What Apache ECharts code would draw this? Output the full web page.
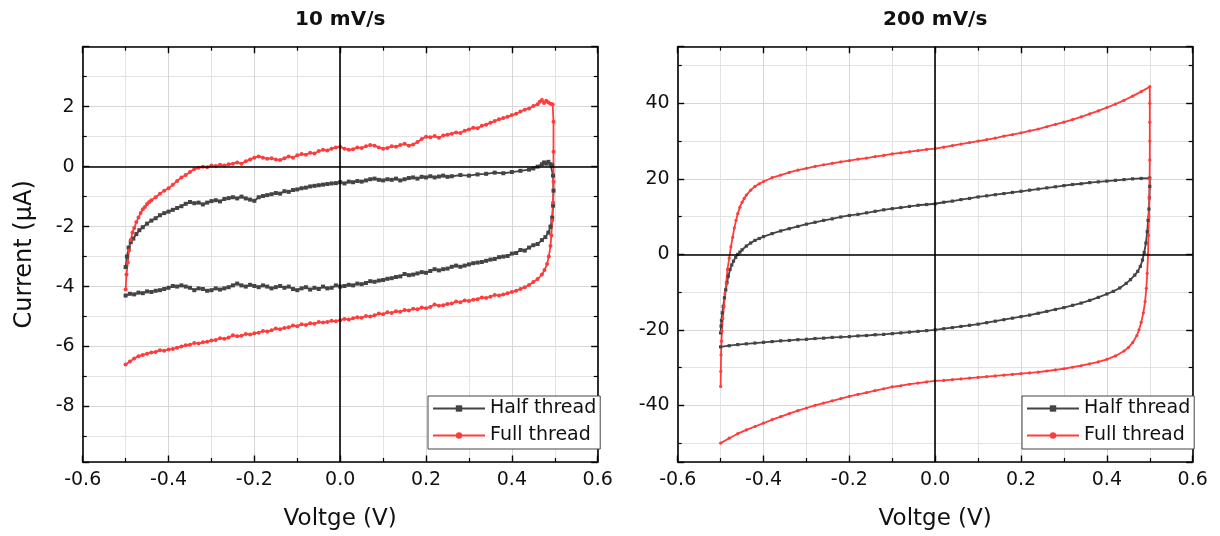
<!DOCTYPE html>
<html><head><meta charset="utf-8">
<script src="https://cdn.jsdelivr.net/npm/echarts@6/dist/echarts.min.js"></script>
<style>html,body{margin:0;padding:0;background:#fff}#c{width:1220px;height:536px}</style>
</head><body><div id="c"></div>
<script>
// ---- data (voltage V, current µA) ----
const titles = ['10 mV/s', '200 mV/s'];
const seriesNames = ['Half thread', 'Full thread'];
const xTickStep = 0.2;
const yTickStep = [2, 20];
const yRange10 = [-9.85, 4];
const yRange200 = [-55, 55];

const half10 = [
[-0.500,-3.35],[-0.497,-3.0],[-0.493,-2.7],[-0.488,-2.52],[-0.482,-2.40],[-0.475,-2.25],[-0.468,-2.12],[-0.460,-2.02],
[-0.450,-1.90],[-0.440,-1.80],[-0.430,-1.72],[-0.420,-1.62],[-0.410,-1.55],[-0.400,-1.50],[-0.390,-1.44],[-0.380,-1.38],
[-0.370,-1.32],[-0.360,-1.24],[-0.350,-1.18],[-0.340,-1.22],[-0.330,-1.20],[-0.320,-1.26],[-0.310,-1.20],[-0.300,-1.15],
[-0.290,-1.12],[-0.280,-1.16],[-0.270,-1.08],[-0.260,-1.05],[-0.250,-1.02],[-0.240,-1.06],[-0.230,-1.00],[-0.220,-1.06],
[-0.210,-1.10],[-0.200,-1.14],[-0.190,-1.02],[-0.180,-0.98],[-0.170,-0.95],[-0.160,-0.92],[-0.150,-0.88],[-0.140,-0.90],
[-0.130,-0.82],[-0.120,-0.84],[-0.110,-0.78],[-0.100,-0.76],[-0.090,-0.72],[-0.080,-0.70],[-0.070,-0.66],[-0.060,-0.64],
[-0.050,-0.62],[-0.040,-0.60],[-0.030,-0.58],[-0.020,-0.56],[-0.010,-0.55],[0.000,-0.52],[0.010,-0.56],[0.020,-0.50],
[0.030,-0.52],[0.040,-0.48],[0.050,-0.50],[0.060,-0.46],[0.070,-0.42],[0.080,-0.40],[0.090,-0.44],[0.100,-0.46],
[0.110,-0.42],[0.120,-0.44],[0.130,-0.40],[0.140,-0.46],[0.150,-0.42],[0.160,-0.38],[0.170,-0.36],[0.180,-0.40],
[0.190,-0.34],[0.200,-0.36],[0.210,-0.32],[0.220,-0.36],[0.230,-0.33],[0.240,-0.30],[0.250,-0.34],[0.260,-0.32],
[0.280,-0.28],[0.300,-0.30],[0.320,-0.26],[0.340,-0.24],[0.360,-0.20],[0.380,-0.22],[0.400,-0.18],[0.420,-0.14],
[0.440,-0.10],[0.450,-0.06],[0.460,0.00],[0.470,0.08],[0.475,0.14],[0.480,0.10],[0.485,0.16],[0.490,0.08],[0.494,0.04],
[0.496,-0.3],[0.497,-0.8],[0.496,-1.3],[0.494,-1.7],[0.490,-2.0],[0.485,-2.2],[0.478,-2.35],[0.470,-2.45],
[0.460,-2.58],[0.450,-2.62],[0.440,-2.70],[0.430,-2.80],[0.420,-2.78],[0.410,-2.88],[0.400,-2.90],[0.390,-2.98],
[0.380,-3.00],[0.370,-3.02],[0.360,-3.08],[0.350,-3.10],[0.340,-3.14],[0.330,-3.18],[0.320,-3.20],[0.310,-3.22],
[0.300,-3.26],[0.290,-3.30],[0.280,-3.34],[0.270,-3.30],[0.260,-3.34],[0.250,-3.40],[0.240,-3.42],[0.230,-3.46],
[0.220,-3.42],[0.210,-3.48],[0.200,-3.54],[0.190,-3.52],[0.180,-3.56],[0.170,-3.60],[0.160,-3.62],[0.150,-3.58],
[0.140,-3.66],[0.130,-3.68],[0.120,-3.72],[0.110,-3.74],[0.100,-3.78],[0.090,-3.80],[0.080,-3.84],[0.070,-3.82],
[0.060,-3.88],[0.050,-3.92],[0.040,-3.90],[0.030,-3.96],[0.020,-3.94],[0.010,-3.98],[0.000,-4.00],[-0.010,-3.96],
[-0.020,-4.04],[-0.030,-4.06],[-0.040,-4.00],[-0.050,-4.08],[-0.060,-4.04],[-0.070,-4.10],[-0.080,-4.02],[-0.090,-4.06],
[-0.100,-4.12],[-0.110,-4.08],[-0.120,-4.00],[-0.130,-4.04],[-0.140,-3.98],[-0.150,-4.02],[-0.160,-4.06],[-0.170,-4.00],
[-0.180,-3.96],[-0.190,-4.02],[-0.200,-3.98],[-0.210,-3.94],[-0.220,-4.00],[-0.230,-3.96],[-0.240,-3.90],[-0.250,-3.96],
[-0.260,-4.02],[-0.270,-4.06],[-0.280,-4.10],[-0.290,-4.06],[-0.300,-4.12],[-0.310,-4.14],[-0.320,-4.08],[-0.330,-4.06],
[-0.340,-4.12],[-0.350,-4.04],[-0.360,-4.00],[-0.370,-3.96],[-0.380,-4.00],[-0.390,-3.98],[-0.400,-4.04],[-0.410,-4.08],
[-0.420,-4.12],[-0.430,-4.14],[-0.440,-4.18],[-0.450,-4.16],[-0.460,-4.22],[-0.470,-4.20],[-0.480,-4.26],[-0.490,-4.24],
[-0.500,-4.30]
];

const full10 = [
[-0.500,-4.10],[-0.498,-3.60],[-0.495,-3.20],[-0.492,-2.80],[-0.488,-2.45],[-0.484,-2.20],[-0.480,-2.05],[-0.475,-1.85],
[-0.470,-1.70],[-0.465,-1.55],[-0.460,-1.42],[-0.455,-1.35],[-0.450,-1.25],[-0.445,-1.18],[-0.440,-1.12],[-0.430,-1.02],
[-0.420,-0.90],[-0.410,-0.80],[-0.400,-0.72],[-0.390,-0.60],[-0.380,-0.48],[-0.370,-0.36],[-0.360,-0.28],[-0.350,-0.18],
[-0.340,-0.08],[-0.330,-0.04],[-0.320,0.00],[-0.310,-0.02],[-0.300,0.04],[-0.290,0.02],[-0.280,0.06],[-0.270,0.04],
[-0.260,0.08],[-0.250,0.10],[-0.240,0.14],[-0.230,0.10],[-0.220,0.18],[-0.210,0.24],[-0.200,0.30],[-0.190,0.34],
[-0.180,0.30],[-0.170,0.26],[-0.160,0.28],[-0.150,0.24],[-0.140,0.22],[-0.130,0.28],[-0.120,0.34],[-0.110,0.30],
[-0.100,0.38],[-0.090,0.42],[-0.080,0.40],[-0.070,0.46],[-0.060,0.44],[-0.050,0.52],[-0.040,0.56],[-0.030,0.54],
[-0.020,0.60],[-0.010,0.64],[0.000,0.66],[0.010,0.60],[0.020,0.56],[0.030,0.58],[0.040,0.64],[0.050,0.62],
[0.060,0.68],[0.070,0.72],[0.080,0.70],[0.090,0.64],[0.100,0.60],[0.110,0.62],[0.120,0.68],[0.130,0.66],
[0.140,0.72],[0.150,0.76],[0.160,0.70],[0.170,0.74],[0.180,0.82],[0.190,0.92],[0.200,1.00],[0.210,0.98],
[0.220,1.02],[0.230,0.96],[0.240,1.04],[0.250,1.06],[0.260,1.10],[0.270,1.14],[0.280,1.12],[0.290,1.20],
[0.300,1.24],[0.310,1.30],[0.320,1.28],[0.330,1.36],[0.340,1.40],[0.350,1.46],[0.360,1.52],[0.370,1.58],
[0.380,1.62],[0.390,1.66],[0.400,1.72],[0.410,1.76],[0.420,1.84],[0.430,1.90],[0.440,1.94],[0.450,2.02],
[0.460,2.08],[0.465,2.16],[0.470,2.22],[0.475,2.12],[0.480,2.20],[0.485,2.14],[0.490,2.10],[0.495,2.08],
[0.497,1.5],[0.497,0.5],[0.497,-0.5],[0.496,-1.2],[0.494,-1.8],[0.492,-2.3],[0.490,-2.65],[0.486,-3.0],
[0.482,-3.25],[0.476,-3.45],[0.470,-3.60],[0.460,-3.75],[0.450,-3.85],[0.440,-3.95],[0.430,-4.02],[0.420,-4.08],
[0.410,-4.14],[0.400,-4.18],[0.390,-4.22],[0.380,-4.26],[0.370,-4.30],[0.360,-4.28],[0.350,-4.34],[0.340,-4.38],
[0.330,-4.36],[0.320,-4.42],[0.310,-4.44],[0.300,-4.48],[0.290,-4.46],[0.280,-4.52],[0.270,-4.50],[0.260,-4.56],
[0.250,-4.58],[0.240,-4.62],[0.230,-4.64],[0.220,-4.60],[0.210,-4.68],[0.200,-4.72],[0.190,-4.70],[0.180,-4.76],
[0.170,-4.74],[0.160,-4.80],[0.150,-4.78],[0.140,-4.84],[0.130,-4.82],[0.120,-4.88],[0.110,-4.86],[0.100,-4.92],
[0.090,-4.90],[0.080,-4.96],[0.070,-5.00],[0.060,-4.98],[0.050,-5.04],[0.040,-5.02],[0.030,-5.06],[0.020,-5.10],
[0.010,-5.08],[0.000,-5.12],[-0.010,-5.16],[-0.020,-5.14],[-0.030,-5.18],[-0.040,-5.20],[-0.050,-5.18],[-0.060,-5.24],
[-0.070,-5.22],[-0.080,-5.28],[-0.090,-5.26],[-0.100,-5.32],[-0.110,-5.30],[-0.120,-5.36],[-0.130,-5.38],[-0.140,-5.42],
[-0.150,-5.40],[-0.160,-5.46],[-0.170,-5.50],[-0.180,-5.48],[-0.190,-5.54],[-0.200,-5.56],[-0.210,-5.60],[-0.220,-5.58],
[-0.230,-5.64],[-0.240,-5.66],[-0.250,-5.62],[-0.260,-5.70],[-0.270,-5.74],[-0.280,-5.72],[-0.290,-5.78],[-0.300,-5.80],
[-0.310,-5.84],[-0.320,-5.86],[-0.330,-5.90],[-0.340,-5.88],[-0.350,-5.94],[-0.360,-5.96],[-0.370,-6.00],[-0.380,-6.04],
[-0.390,-6.08],[-0.400,-6.10],[-0.410,-6.14],[-0.420,-6.12],[-0.430,-6.18],[-0.440,-6.20],[-0.450,-6.24],[-0.460,-6.28],
[-0.470,-6.32],[-0.480,-6.40],[-0.490,-6.50],[-0.500,-6.60]
];

const half200 = [
[-0.500,-20.8],[-0.499,-19.0],[-0.498,-17.5],[-0.496,-15.5],[-0.494,-13.8],[-0.491,-11.5],[-0.488,-9.4],[-0.485,-7.5],
[-0.482,-5.8],[-0.478,-4.0],[-0.474,-2.8],[-0.470,-1.8],[-0.465,-0.8],[-0.460,0.0],[-0.455,0.6],[-0.450,1.2],
[-0.440,2.2],[-0.430,3.0],[-0.420,3.7],[-0.410,4.2],[-0.400,4.7],[-0.380,5.5],[-0.360,6.2],[-0.340,6.8],
[-0.320,7.4],[-0.300,8.0],[-0.280,8.5],[-0.260,9.0],[-0.240,9.4],[-0.220,9.9],[-0.200,10.3],[-0.180,10.6],
[-0.160,11.0],[-0.140,11.4],[-0.120,11.8],[-0.100,12.1],[-0.080,12.4],[-0.060,12.7],[-0.040,13.0],[-0.020,13.2],
[0.000,13.4],[0.020,13.8],[0.040,14.1],[0.060,14.5],[0.080,14.8],[0.100,15.2],[0.120,15.5],[0.140,15.8],
[0.160,16.1],[0.180,16.4],[0.200,16.7],[0.220,17.0],[0.240,17.3],[0.260,17.6],[0.280,17.9],[0.300,18.2],
[0.320,18.5],[0.340,18.7],[0.360,19.0],[0.380,19.2],[0.400,19.4],[0.420,19.6],[0.440,19.8],[0.460,20.0],
[0.480,20.1],[0.500,20.2],
[0.500,18.0],[0.499,15.0],[0.498,12.0],[0.496,9.0],[0.494,6.0],[0.491,3.0],[0.487,0.5],[0.483,-1.5],
[0.478,-3.2],[0.472,-4.5],[0.465,-5.5],[0.455,-6.7],[0.445,-7.7],[0.430,-8.9],[0.415,-9.8],[0.400,-10.5],
[0.380,-11.4],[0.360,-12.2],[0.340,-12.9],[0.320,-13.5],[0.300,-14.1],[0.280,-14.6],[0.260,-15.1],[0.240,-15.6],
[0.220,-16.1],[0.200,-16.5],[0.180,-16.9],[0.160,-17.3],[0.140,-17.7],[0.120,-18.1],[0.100,-18.5],[0.080,-18.8],
[0.060,-19.1],[0.040,-19.4],[0.020,-19.7],[0.000,-20.0],[-0.020,-20.2],[-0.040,-20.4],[-0.060,-20.6],[-0.080,-20.8],
[-0.100,-21.0],[-0.120,-21.2],[-0.140,-21.3],[-0.160,-21.5],[-0.180,-21.6],[-0.200,-21.8],[-0.220,-21.9],[-0.240,-22.0],
[-0.260,-22.2],[-0.280,-22.3],[-0.300,-22.5],[-0.320,-22.6],[-0.340,-22.8],[-0.360,-22.9],[-0.380,-23.1],[-0.400,-23.3],
[-0.420,-23.5],[-0.440,-23.7],[-0.460,-23.9],[-0.480,-24.2],[-0.500,-24.5]
];

const full200 = [
[-0.500,-35.0],[-0.4995,-31.0],[-0.499,-26.6],[-0.498,-23.0],[-0.497,-20.4],[-0.495,-17.0],[-0.492,-13.8],[-0.490,-10.5],
[-0.487,-7.6],[-0.484,-4.0],[-0.480,-1.0],[-0.476,2.0],[-0.472,4.5],[-0.468,7.0],[-0.464,9.0],[-0.460,10.8],
[-0.455,12.5],[-0.450,13.8],[-0.445,14.8],[-0.440,15.7],[-0.430,17.0],[-0.420,18.0],[-0.410,18.7],[-0.400,19.3],
[-0.380,20.3],[-0.360,21.0],[-0.340,21.7],[-0.320,22.3],[-0.300,22.8],[-0.280,23.3],[-0.260,23.7],[-0.240,24.1],
[-0.220,24.5],[-0.200,24.8],[-0.180,25.2],[-0.160,25.5],[-0.140,25.9],[-0.120,26.2],[-0.100,26.6],[-0.080,26.9],
[-0.060,27.2],[-0.040,27.5],[-0.020,27.8],[0.000,28.0],[0.020,28.4],[0.040,28.8],[0.060,29.2],[0.080,29.6],
[0.100,30.0],[0.120,30.4],[0.140,30.8],[0.160,31.3],[0.180,31.7],[0.200,32.2],[0.220,32.7],[0.240,33.2],
[0.260,33.8],[0.280,34.4],[0.300,35.0],[0.320,35.7],[0.340,36.4],[0.360,37.2],[0.380,38.0],[0.400,38.9],
[0.420,39.8],[0.440,40.8],[0.460,41.9],[0.480,43.1],[0.500,44.4],
[0.500,40.0],[0.500,35.0],[0.500,30.0],[0.500,25.0],[0.4995,20.0],[0.499,15.0],[0.498,10.0],[0.497,5.0],
[0.496,0.0],[0.494,-5.0],[0.492,-9.0],[0.489,-12.5],[0.485,-15.5],[0.480,-18.0],[0.475,-20.0],[0.470,-21.5],
[0.460,-23.4],[0.450,-24.7],[0.440,-25.6],[0.420,-26.9],[0.400,-27.8],[0.380,-28.5],[0.360,-29.0],[0.340,-29.5],
[0.320,-29.9],[0.300,-30.3],[0.280,-30.6],[0.260,-30.9],[0.240,-31.2],[0.220,-31.4],[0.200,-31.6],[0.180,-31.8],
[0.160,-32.0],[0.140,-32.2],[0.120,-32.4],[0.100,-32.6],[0.080,-32.8],[0.060,-33.0],[0.040,-33.2],[0.020,-33.4],
[0.000,-33.5],[-0.020,-33.8],[-0.040,-34.1],[-0.060,-34.4],[-0.080,-34.8],[-0.100,-35.1],[-0.120,-35.6],[-0.140,-36.1],
[-0.160,-36.6],[-0.180,-37.1],[-0.200,-37.6],[-0.220,-38.2],[-0.240,-38.8],[-0.260,-39.4],[-0.280,-40.0],[-0.300,-40.7],
[-0.320,-41.4],[-0.340,-42.2],[-0.360,-43.0],[-0.380,-43.8],[-0.400,-44.7],[-0.420,-45.6],[-0.440,-46.5],[-0.460,-47.5],
[-0.480,-48.7],[-0.500,-50.0]
];

// ---- styling / layout ----
const FONT = 'DejaVu Sans';
const GRAY = '#444444', RED = '#ff3c3c';
const gridTop = 46.7, gridH = 415.6, gridW = 515;
const gridLefts = [82.7, 677.7];

const lineAx = {show:true, onZero:false, lineStyle:{color:'#000', width:1.6}};
const tickAx = {show:true, inside:true, length:6.5, lineStyle:{color:'#000', width:1.4}};
const minorAx = {show:true, splitNumber:2, length:4, lineStyle:{color:'#000', width:1.2}};
const labelStyle = {fontFamily:FONT, fontSize:19, color:'#111'};

function xAxes(g){
  const base = {type:'value', gridIndex:g, min:-0.6, max:0.6, interval:xTickStep,
    axisLine:lineAx, axisTick:tickAx, minorTick:minorAx};
  return [
    Object.assign({}, base, {position:'bottom',
      splitLine:{show:true, lineStyle:{color:'#d6d6d6', width:1}},
      minorSplitLine:{show:true, lineStyle:{color:'#e3e3e3', width:1}},
      axisLabel:Object.assign({margin:9, formatter:v=>v.toFixed(1)}, labelStyle),
      name:'Voltge (V)', nameLocation:'middle', nameGap:46,
      nameTextStyle:{fontFamily:FONT, fontSize:23, color:'#111'}}),
    Object.assign({}, base, {position:'top', splitLine:{show:false}, axisLabel:{show:false}})
  ];
}
function yAxes(g, range, split, step, name){
  const base = {type:'value', gridIndex:g, min:range[0], max:range[1], splitNumber:split,
    axisLine:lineAx, axisTick:tickAx, minorTick:minorAx};
  const fmt = v => {
    const r = v/step;
    if (Math.abs(r - Math.round(r)) > 1e-6) return '';
    if (v >= range[1] - 1e-6 || v <= range[0] + 1e-6) return '';
    return String(Math.round(v));
  };
  const left = Object.assign({}, base, {position:'left',
      splitLine:{show:true, lineStyle:{color:'#d6d6d6', width:1}},
      minorSplitLine:{show:true, lineStyle:{color:'#e3e3e3', width:1}},
      axisLabel:Object.assign({margin:8, formatter:fmt}, labelStyle)});
  if (name) Object.assign(left, {name:name, nameLocation:'middle', nameGap:46,
      nameTextStyle:{fontFamily:FONT, fontSize:24, color:'#111'}});
  return [left, Object.assign({}, base, {position:'right', splitLine:{show:false}, axisLabel:{show:false}})];
}

function ser(name, data, xi, yi, color, symbol, size, width, zeroLines){
  const s = {type:'line', name:name, data:data, xAxisIndex:xi, yAxisIndex:yi,
    symbol:symbol, symbolSize:size, showSymbol:true, clip:true,
    lineStyle:{color:color, width:width}, itemStyle:{color:color},
    emphasis:{disabled:true}, silent:true, animation:false};
  if (zeroLines) s.markLine = {silent:true, symbol:'none', animation:false, label:{show:false},
    lineStyle:{color:'#000', width:1.6, type:'solid'}, data:[{xAxis:0},{yAxis:0}]};
  return s;
}

const legendBase = {orient:'vertical', top:396, data:seriesNames, selectedMode:false,
  itemWidth:52, itemHeight:8, itemGap:8, padding:[3,4,4,4],
  borderColor:'#444', borderWidth:1, backgroundColor:'#fff',
  textStyle:{fontFamily:FONT, fontSize:19, color:'#111'}};

const option = {
  animation:false,
  backgroundColor:'#fff',
  title:[
    {text:titles[0], left:gridLefts[0]+gridW/2, top:10, textAlign:'center', padding:0,
     textStyle:{fontFamily:FONT, fontWeight:'bold', fontSize:20, color:'#111'}},
    {text:titles[1], left:gridLefts[1]+gridW/2, top:10, textAlign:'center', padding:0,
     textStyle:{fontFamily:FONT, fontWeight:'bold', fontSize:20, color:'#111'}}
  ],
  legend:[
    Object.assign({}, legendBase, {left:428}),
    Object.assign({}, legendBase, {left:1022})
  ],
  grid:[
    {left:gridLefts[0], top:gridTop, width:gridW, height:gridH},
    {left:gridLefts[1], top:gridTop, width:gridW, height:gridH}
  ],
  xAxis:[].concat(xAxes(0), xAxes(1)),
  yAxis:[].concat(yAxes(0, yRange10, 7, yTickStep[0], 'Current (μA)'), yAxes(1, yRange200, 5, yTickStep[1], null)),
  series:[
    ser(seriesNames[0], half10, 0, 0, GRAY, 'rect', 4, 1.8, true),
    ser(seriesNames[1], full10, 0, 0, RED, 'circle', 4, 1.8, false),
    ser(seriesNames[0], half200, 2, 2, GRAY, 'rect', 3.2, 1.8, true),
    ser(seriesNames[1], full200, 2, 2, RED, 'circle', 3.2, 1.8, false)
  ]
};
const chart = echarts.init(document.getElementById('c'), null, {renderer:'canvas'});
chart.setOption(option);
</script>
</body></html>
